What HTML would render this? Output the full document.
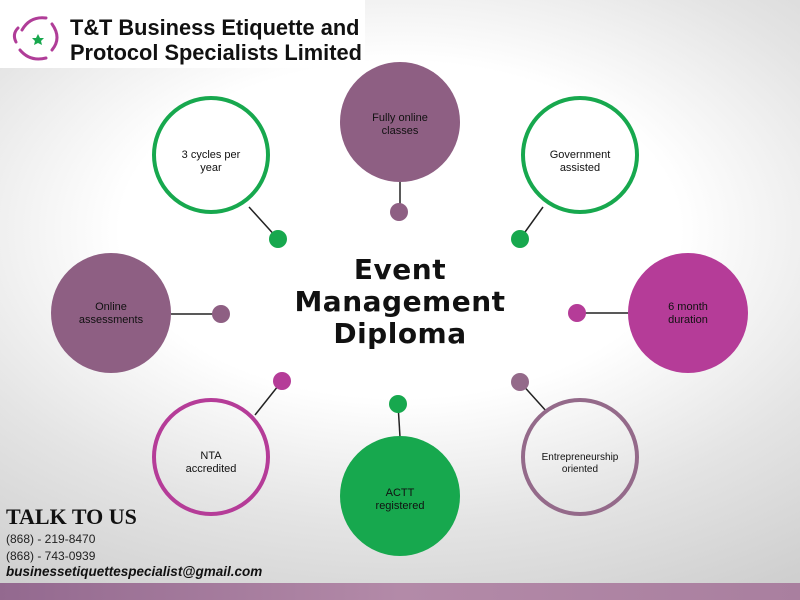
<!DOCTYPE html>
<html><head><style>
body{margin:0;width:800px;height:600px;overflow:hidden;position:relative;font-family:"Liberation Sans",sans-serif;
background:radial-gradient(ellipse 700px 420px at 400px 230px,#ffffff 40%,#e4e4e4 70%,#cfcfcf 100%);}
svg{position:absolute;left:0;top:0}
.t{position:absolute;font-size:11px;text-align:center;line-height:13px;color:#111}
</style></head><body>
<div style="position:absolute;left:0;top:0;width:365px;height:68px;background:#fff"></div>
<svg width="800" height="600">
<g fill="none" stroke="#b03d98" stroke-width="3" stroke-linecap="round">
<path d="M22 30 Q30 16 46 18"/><path d="M52 24 Q62 38 52 50"/><path d="M46 58 Q30 62 20 50"/><path d="M16 42 Q12 34 18 28"/>
</g>
<polygon points="38,34 40,38 44,38 41,41 42,45 38,43 34,45 35,41 32,38 36,38" fill="#18a84e"/>
<g stroke="#222" stroke-width="1.5">
<line x1="400" y1="182" x2="400" y2="212"/><line x1="249" y1="207" x2="278" y2="239"/>
<line x1="543" y1="207" x2="520" y2="239"/><line x1="171" y1="314" x2="221" y2="314"/>
<line x1="577" y1="313" x2="628" y2="313"/><line x1="282" y1="381" x2="255" y2="415"/>
<line x1="398" y1="404" x2="400" y2="437"/><line x1="520" y1="382" x2="547" y2="412"/>
</g>
<circle cx="400" cy="122" r="60" fill="#8e5f83"/><circle cx="399" cy="212" r="9" fill="#8e5f83"/>
<circle cx="211" cy="155" r="57" fill="#fff" stroke="#17a84e" stroke-width="4"/><circle cx="278" cy="239" r="9" fill="#17a84e"/>
<circle cx="580" cy="155" r="57" fill="#fff" stroke="#17a84e" stroke-width="4"/><circle cx="520" cy="239" r="9" fill="#17a84e"/>
<circle cx="111" cy="313" r="60" fill="#8e5f83"/><circle cx="221" cy="314" r="9" fill="#8e5f83"/>
<circle cx="688" cy="313" r="60" fill="#b53c98"/><circle cx="577" cy="313" r="9" fill="#b53c98"/>
<circle cx="211" cy="457" r="57" fill="none" stroke="#b53c98" stroke-width="4"/><circle cx="282" cy="381" r="9" fill="#b53c98"/>
<circle cx="400" cy="496" r="60" fill="#17a84e"/><circle cx="398" cy="404" r="9" fill="#17a84e"/>
<circle cx="580" cy="457" r="57" fill="none" stroke="#946a8a" stroke-width="4"/><circle cx="520" cy="382" r="9" fill="#946a8a"/>
<defs><linearGradient id="g"><stop offset="0" stop-color="#93698f"/><stop offset="0.5" stop-color="#b38aa8"/><stop offset="1" stop-color="#a97f9f"/></linearGradient></defs>
<rect x="0" y="583" width="800" height="17" fill="url(#g)"/>
</svg>
<div style="position:absolute;left:70px;top:15px;font-size:21.8px;font-weight:bold;line-height:25px;color:#111">T&amp;T Business Etiquette and<br>Protocol Specialists Limited</div>
<div class="t" style="left:340px;top:112px;width:120px">Fully online<br>classes</div>
<div class="t" style="left:151px;top:149px;width:120px">3 cycles per<br>year</div>
<div class="t" style="left:520px;top:149px;width:120px">Government<br>assisted</div>
<div class="t" style="left:51px;top:301px;width:120px">Online<br>assessments</div>
<div class="t" style="left:628px;top:301px;width:120px">6 month<br>duration</div>
<div class="t" style="left:151px;top:450px;width:120px">NTA<br>accredited</div>
<div class="t" style="left:340px;top:487px;width:120px">ACTT<br>registered</div>
<div class="t" style="left:520px;top:452px;width:120px;font-size:10px;line-height:12px">Entrepreneurship<br>oriented</div>
<div style="position:absolute;left:250px;top:254px;width:300px;text-align:center;font-size:28px;font-weight:bold;line-height:32px;color:#111;font-family:'DejaVu Sans',sans-serif;letter-spacing:0.5px">Event<br>Management<br>Diploma</div>
<div style="position:absolute;left:6px;top:504px;font-family:'Liberation Serif',serif;font-weight:bold;font-size:22px;color:#111">TALK TO US</div>
<div style="position:absolute;left:6px;top:531px;font-size:12px;line-height:17px;color:#222">(868) - 219-8470<br>(868) - 743-0939</div>
<div style="position:absolute;left:6px;top:564px;font-size:13.5px;font-weight:bold;font-style:italic;color:#111">businessetiquettespecialist@gmail.com</div>
</body></html>
